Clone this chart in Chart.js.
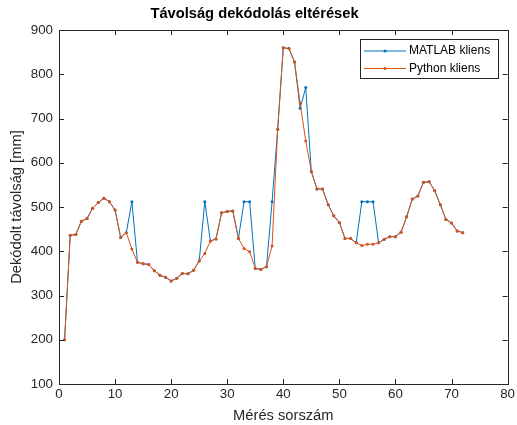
<!DOCTYPE html>
<html>
<head>
<meta charset="utf-8">
<script src="https://cdn.jsdelivr.net/npm/chart.js@4"></script>
<style>
  body { margin: 0; background: #fff; }
  canvas { display: block; }
</style>
</head>
<body>
<canvas id="myChart" width="517" height="425"></canvas>
<script>
const meresek = [1,2,3,4,5,6,7,8,9,10,11,12,13,14,15,16,17,18,19,20,21,22,23,24,25,26,27,28,29,30,31,32,33,34,35,36,
  37,38,39,40,41,42,43,44,45,46,47,48,49,50,51,52,53,54,55,56,57,58,59,60,61,62,63,64,65,66,67,68,69,70,71,72];
const matlabKliens = [200,436,438,468,474,497,510,520,512,493,431,442,512,375,372,370,356,346,341,333,339,350,349,357,378,512,
  423,428,487,490,491,429,512,512,361,359,365,512,676,860,858,828,723,770,580,541,541,505,480,465,429,429,419,512,512,512,
  419,427,433,433,443,478,518,525,556,557,537,505,472,464,446,442];
const pythonKliens = [200,436,438,468,474,497,510,520,512,493,431,442,405,375,372,370,356,346,341,333,339,350,349,357,378,395,
  423,428,487,490,491,429,406,399,361,359,365,412,676,860,858,828,735,649,580,541,541,505,480,465,429,429,419,413,416,416,
  419,427,433,433,443,478,518,525,556,557,537,505,472,464,446,442];
const xTicks = [0,10,20,30,40,50,60,70,80];
const yTicks = [100,200,300,400,500,600,700,800,900];

const FONT = "'Liberation Sans', Arial, Helvetica, sans-serif";
const AX = '#262626';

function points(ys) {
  return meresek.map((m, i) => ({x: m, y: ys[i]}));
}

// MATLAB-like box with inward ticks, plus legend inside the axes
const matlabBox = {
  id: 'matlabBox',
  afterDraw(chart) {
    const ctx = chart.ctx;
    const a = chart.chartArea;
    const sx = chart.scales.x, sy = chart.scales.y;
    const L = 5;
    ctx.save();
    ctx.strokeStyle = AX;
    ctx.lineWidth = 1;
    ctx.beginPath();
    xTicks.forEach(v => {
      const px = Math.round(sx.getPixelForValue(v)) + 0.5;
      ctx.moveTo(px, a.bottom); ctx.lineTo(px, a.bottom - L);
      ctx.moveTo(px, a.top); ctx.lineTo(px, a.top + L);
    });
    yTicks.forEach(v => {
      const py = Math.round(sy.getPixelForValue(v)) + 0.5;
      ctx.moveTo(a.left, py); ctx.lineTo(a.left + L, py);
      ctx.moveTo(a.right, py); ctx.lineTo(a.right - L, py);
    });
    ctx.stroke();
    ctx.strokeRect(Math.round(a.left) + 0.5, Math.round(a.top) + 0.5,
      Math.round(a.right - a.left), Math.round(a.bottom - a.top));

    // legend
    const bx = 360.5, by = 39.5, bw = 138, bh = 39;
    ctx.fillStyle = '#fff';
    ctx.fillRect(bx, by, bw, bh);
    ctx.strokeRect(bx, by, bw, bh);
    ctx.font = '12px ' + FONT;
    ctx.textBaseline = 'middle';
    chart.data.datasets.forEach((ds, i) => {
      const ly = 51 + i * 17.5;
      ctx.strokeStyle = ds.borderColor;
      ctx.beginPath();
      ctx.moveTo(364, ly); ctx.lineTo(406, ly);
      ctx.stroke();
      ctx.fillStyle = ds.borderColor;
      ctx.beginPath();
      ctx.arc(385, ly, 1.5, 0, Math.PI * 2);
      ctx.fill();
      ctx.fillStyle = '#000';
      ctx.fillText(ds.label, 409, ly);
    });
    ctx.restore();
  }
};

const ctx = document.getElementById('myChart').getContext('2d');
const myChart = new Chart(ctx, {
  type: 'line',
  data: {
    datasets: [{
      label: 'MATLAB kliens',
      data: points(matlabKliens),
      borderColor: '#0072BD',
      backgroundColor: '#0072BD',
      borderWidth: 1,
      pointRadius: 1.5,
      pointBorderWidth: 0,
      order: 1
    }, {
      label: 'Python kliens',
      data: points(pythonKliens),
      borderColor: '#D95319',
      backgroundColor: '#D95319',
      borderWidth: 1,
      pointRadius: 1.5,
      pointBorderWidth: 0,
      order: 0
    }]
  },
  options: {
    responsive: false,
    animation: false,
    events: [],
    layout: { padding: { top: 0, right: 8, bottom: 0, left: 0 } },
    scales: {
      x: {
        type: 'linear',
        min: 0, max: 80,
        afterFit(s) { s.height = 41; },
        afterBuildTicks(s) { s.ticks = xTicks.map(v => ({value: v})); },
        grid: { display: false, drawTicks: false },
        border: { display: false },
        ticks: { color: AX, padding: 2, maxRotation: 0, font: { family: FONT, size: 13.3 } },
        title: { display: true, text: 'Mérés sorszám', color: AX, padding: 0,
          font: { family: FONT, size: 14.7, lineHeight: 1.2 } }
      },
      y: {
        min: 100, max: 900,
        afterFit(s) { s.width = 59; },
        afterBuildTicks(s) { s.ticks = yTicks.map(v => ({value: v})); },
        grid: { display: false, drawTicks: false },
        border: { display: false },
        ticks: { color: AX, padding: 6, font: { family: FONT, size: 13.3 } },
        title: { display: true, text: 'Dekódolt távolság [mm]', color: AX, padding: { top: 8, bottom: 0 },
          font: { family: FONT, size: 14.7, lineHeight: 1.2 } }
      }
    },
    plugins: {
      legend: { display: false },
      tooltip: { enabled: false },
      title: {
        display: true,
        text: 'Távolság dekódolás eltérések',
        color: '#000',
        padding: { top: 5, bottom: 7.4 },
        font: { family: FONT, size: 14.7, weight: 'bold', lineHeight: 1.2 }
      }
    }
  },
  plugins: [matlabBox]
});
</script>
</body>
</html>
